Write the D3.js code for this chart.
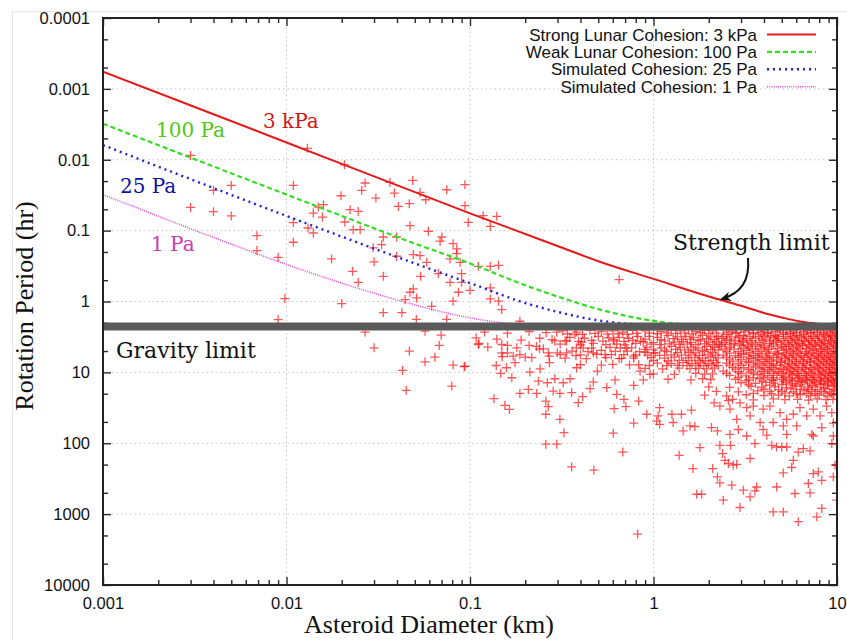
<!DOCTYPE html>
<html><head><meta charset="utf-8">
<script src="https://cdn.jsdelivr.net/npm/d3@7"></script>
<style>body{margin:0;background:#fff}svg{display:block}</style>
</head><body>
<svg id="chart" width="847" height="640"></svg>
<script>
// Axis ticks
const xTickValues = [0.001, 0.01, 0.1, 1, 10];
const xTickLabels = ["0.001", "0.01", "0.1", "1", "10"];
const yTickValues = [1e-4, 1e-3, 1e-2, 1e-1, 1, 10, 100, 1000, 10000];
const yTickLabels = ["0.0001", "0.001", "0.01", "0.1", "1", "10", "100", "1000", "10000"];

// Spin barrier for cohesionless rubble piles (hr)
const gravityLimitHr = 2.25;

// Cohesion-limited spin curves: diameter (km) and period (hr)
const strong3kPaD = [0.001, 0.01, 0.1, 0.3, 0.5, 1, 2, 3, 4, 5, 6.3, 8, 10];
const strong3kPaP = [0.00057, 0.0057, 0.057, 0.165, 0.27, 0.48, 0.85, 1.15, 1.45, 1.68, 1.92, 2.08, 2.18];
const weak100PaD = [0.001, 0.01, 0.05, 0.1, 0.2, 0.3, 0.5, 0.8, 1.2, 1.6, 2.5];
const weak100PaP = [0.0031, 0.031, 0.152, 0.29, 0.59, 0.85, 1.28, 1.7, 2.0, 2.12, 2.2];
const sim25PaD = [0.001, 0.01, 0.05, 0.1, 0.2, 0.3, 0.5, 0.8, 1.2];
const sim25PaP = [0.0062, 0.062, 0.29, 0.55, 1.05, 1.4, 1.85, 2.1, 2.2];
const sim1PaD = [0.001, 0.005, 0.01, 0.02, 0.04, 0.07, 0.1, 0.15, 0.25];
const sim1PaP = [0.031, 0.155, 0.3, 0.55, 0.95, 1.4, 1.7, 2.0, 2.2];

const seriesNames = ["Strong Lunar Cohesion: 3 kPa", "Weak Lunar Cohesion: 100 Pa",
  "Simulated Cohesion: 25 Pa", "Simulated Cohesion: 1 Pa"];

// Asteroid light-curve sample: [diameter km, period hr]
const asteroidsFast = [
  [0.0030,0.0087],[0.0040,0.027],[0.0050,0.023],[0.0109,0.023],[0.0030,0.047],[0.0040,0.054],[0.0050,0.062],
  [0.0109,0.077],[0.0069,0.118],[0.0109,0.146],[0.0069,0.191],[0.0090,0.238],[0.0098,0.91],[0.0090,1.8],
  [0.013,0.0069],[0.0207,0.0118],[0.0268,0.0213],[0.0257,0.0271],[0.0198,0.0322],[0.0307,0.0347],[0.0366,0.0209],
  [0.0387,0.0295],[0.0487,0.0196],[0.0534,0.0289],[0.0574,0.0367],[0.0747,0.0265],[0.0939,0.0225],[0.0939,0.0445],
  [0.0407,0.0455],[0.0467,0.0417],[0.0159,0.0431],[0.0149,0.0465],[0.0140,0.0565],[0.0157,0.0643],[0.0222,0.0507],
  [0.0246,0.0536],[0.0208,0.0756],[0.0231,0.0969],[0.0252,0.0969],[0.0131,0.0918],[0.0140,0.108],[0.0337,0.123],
  [0.0330,0.158],[0.0398,0.123],[0.0471,0.0851],[0.0593,0.102],[0.0702,0.123],[0.0687,0.141],[0.0809,0.153],
  [0.0847,0.181],[0.0847,0.211],[0.0978,0.0765],[0.118,0.0616],[0.140,0.0629],[0.129,0.0873],[0.0297,0.175],
  [0.030,0.276],[0.0398,0.230],[0.0491,0.218],[0.0534,0.225],[0.0581,0.280],[0.0778,0.251],[0.0883,0.280],
  [0.111,0.319],[0.129,0.319],[0.143,0.309],[0.0176,0.251],[0.0229,0.375],[0.0246,0.536],[0.0337,0.441],
  [0.0538,0.441],[0.0672,0.404],[0.0778,0.536],[0.090,0.404],[0.0471,0.741],[0.0491,0.664],[0.0512,0.89],
  [0.0443,0.94],[0.0865,0.741],[0.090,0.536],[0.100,0.695],[0.129,0.643],[0.0809,0.99],[0.129,0.92],[0.143,0.99],
  [0.149,1.30],[0.020,1.07],[0.0337,1.44],[0.0425,1.44],[0.051,1.79],[0.0618,1.17],[0.0747,1.79],[0.187,1.9],
  [0.65,0.49]
];

const asteroidsSlow = [
  [0.0268,2.7],[0.030,4.5],[0.0467,5.0],[0.0569,2.62],[0.0696,2.99],[0.068,4.17],[0.0644,6.1],[0.0569,7.1],
  [0.0429,9.4],[0.0809,7.9],[0.093,8.3],[0.0449,17.9],[0.0795,15.6],[0.108,3.25],[0.111,4.04],[0.0939,8.2],
  [0.112,3.9],[0.139,8.0],[0.135,23.5],[0.147,10.3],[0.158,8.6],[0.169,11.9],[0.149,4.04],[0.149,5.3],[0.160,4.17],
  [0.160,5.3],[0.172,5.9],[0.187,5.6],[0.176,7.3],[0.21,4.17],[0.217,6.2],[0.212,9.9],[0.239,4.65],[0.251,4.65],
  [0.241,8.9],[0.236,13.3],[0.267,5.3],[0.271,7.3],[0.297,2.7],[0.29,3.6],[0.299,5.3],[0.336,3.6],[0.336,5.3],
  [0.373,2.92],[0.378,5.8],[0.381,8.6],[0.406,3.75],[0.414,4.5],[0.47,5.3],[0.494,9.6],[0.544,5.6],[0.604,3.43],
  [0.65,6.4],[0.71,4.5],[0.78,5.9],[0.845,9.6],[0.90,4.75],[1.0,5.3],
  [0.187,19.8],[0.208,17.4],[0.231,19.8],[0.264,14.0],[0.284,18.4],[0.29,12.3],[0.309,19.8],[0.322,14.0],
  [0.351,12.3],[0.259,25.4],[0.267,30.5],[0.259,39],[0.155,29.2],[0.164,33.3],[0.309,46],[0.325,71],[0.259,103],
  [0.297,103],[0.358,19.3],[0.389,26.8],[0.411,22.0],[0.451,17.0],[0.47,13.7],[0.556,16.4],[0.617,12.8],[0.61,32.5],
  [0.69,24.0],[0.707,30.5],[0.63,20.4],[0.83,25.4],[0.78,52],[0.604,72],[0.68,133],[0.358,216],[0.473,240],
  [0.82,1910],[0.92,39],[1.04,48.6],[0.78,15.3],[0.88,12.8],[0.958,10.7],
  [1.08,31.5],[1.06,41],[1.08,54],[1.26,39],[1.28,51],[1.42,39],[1.61,34],[1.45,67],[1.58,57],[1.68,58],
  [1.38,148],[1.79,115],[1.64,228],[1.72,524],[1.83,524],[2.07,60],[2.10,228],[2.23,299],[2.30,363],[2.23,67],
  [2.30,107],[2.38,140],[2.45,174],[2.56,193],[2.72,204],[2.84,198],[2.67,391],[2.40,636],[2.96,807],[3.09,460],
  [3.36,164],[3.36,571],[3.57,470],[3.65,414],[2.63,107],[2.61,75],[2.90,64],[3.22,79],[3.57,101],[4.14,77],
  [4.41,107],[4.69,414],[4.49,930],[5.10,930],[5.10,262],[5.90,512],[6.15,1280],[5.66,220],[5.78,174],[6.15,133],
  [6.55,119],[7.13,128],[7.43,268],[6.98,370],[7.13,502],[8.26,333],[7.91,254],[8.26,832],[7.76,1090],[9.75,204],
  [9.55,299],[9.96,636],[7.43,79],[7.29,75],[8.26,60],[9.55,79],[9.55,52],[9.37,101],[5.32,113],[5.0,113],
  [4.69,113],[5.32,75],[6.03,57],[5.10,57],[4.49,51],[3.96,64],[3.81,51],[3.36,41],[2.84,46],[2.61,33],
  [2.30,30],[2.14,27],[2.56,25],[2.96,27],[3.22,31.5],[3.5,30],[3.96,33],[4.31,30],[4.89,37],[5.32,46],
  [5.78,39],[6.28,31.5],[6.84,41],[7.43,33],[8.09,41],[8.78,30],[9.37,37]
];

const asteroidsDense = [
  [2.4,2.5],[2.7,2.6],[3.0,2.45],[3.3,2.55],[3.7,2.5],[4.0,2.6],[4.4,2.45],[4.9,2.55],[5.3,2.5],[5.8,2.6],[6.3,2.45],[6.9,2.55],[7.5,2.5],[8.1,2.6],[8.8,2.45],[9.5,2.55],
  [2.55,2.7],[2.85,2.75],[3.15,2.68],[3.5,2.72],[3.85,2.7],[4.2,2.76],[4.65,2.66],[5.1,2.72],[5.55,2.7],[6.05,2.75],[6.6,2.67],[7.2,2.72],[7.8,2.7],[8.45,2.76],[9.15,2.66],[9.8,2.72],
  [2.5,2.9],[2.8,2.8],[3.1,3.0],[3.5,2.85],[3.9,2.95],[4.2,2.8],[4.6,3.0],[5.1,2.9],[5.6,2.85],[6.0,3.0],[6.6,2.9],[7.2,2.8],[7.8,2.95],[8.5,2.9],[9.2,3.0],[9.9,2.85],
  [2.4,3.1],[2.65,3.15],[2.95,3.08],[3.35,3.12],[3.75,3.1],[4.0,3.16],[4.35,3.06],[4.75,3.12],[5.25,3.1],[5.75,3.15],[6.25,3.07],[6.8,3.12],[7.4,3.1],[8.0,3.16],[8.7,3.06],[9.4,3.12],
  [2.35,3.3],[2.6,3.4],[2.9,3.25],[3.2,3.35],[3.6,3.3],[4.1,3.4],[4.5,3.2],[4.8,3.35],[5.4,3.3],[5.9,3.4],[6.4,3.25],[7.0,3.35],[7.6,3.3],[8.3,3.4],[9.0,3.2],[9.7,3.35],
  [2.5,3.55],[2.8,3.6],[3.1,3.5],[3.45,3.58],[3.9,3.55],[4.3,3.62],[4.65,3.5],[5.1,3.58],[5.6,3.55],[6.1,3.6],[6.6,3.5],[7.2,3.58],[7.85,3.55],[8.5,3.62],[9.2,3.5],[9.9,3.58],
  [2.45,3.8],[2.75,3.9],[3.05,3.7],[3.4,3.85],[3.8,3.8],[4.3,3.9],[4.7,3.75],[5.2,3.85],[5.7,3.8],[6.2,3.9],[6.7,3.7],[7.3,3.85],[8.0,3.8],[8.6,3.9],[9.3,3.75],[9.9,3.85],
  [2.35,4.05],[2.65,4.1],[2.95,4.0],[3.25,4.08],[3.6,4.05],[4.0,4.12],[4.5,4.0],[4.95,4.08],[5.45,4.05],[5.95,4.1],[6.45,4.0],[7.0,4.08],[7.6,4.05],[8.2,4.12],[8.9,4.0],[9.6,4.08],
  [2.3,4.3],[2.6,4.4],[3.0,4.2],[3.3,4.35],[3.7,4.3],[4.0,4.45],[4.4,4.25],[5.0,4.35],[5.5,4.3],[6.0,4.4],[6.5,4.2],[7.1,4.35],[7.7,4.3],[8.4,4.45],[9.1,4.25],[9.8,4.35],
  [2.45,4.65],[2.75,4.7],[3.1,4.6],[3.45,4.68],[3.85,4.65],[4.25,4.72],[4.75,4.6],[5.3,4.68],[5.8,4.65],[6.3,4.7],[6.85,4.6],[7.5,4.68],[8.2,4.65],[8.8,4.72],[9.5,4.6],
  [2.5,5.0],[2.9,5.1],[3.2,4.9],[3.6,5.05],[4.1,5.0],[4.6,5.15],[5.1,4.9],[5.6,5.05],[6.1,5.0],[6.8,5.1],[7.4,4.9],[8.1,5.05],[8.9,5.0],[9.6,5.1],
  [2.6,5.35],[3.0,5.4],[3.35,5.3],[3.75,5.38],[4.2,5.35],[4.7,5.42],[5.2,5.3],[5.7,5.38],[6.2,5.35],[6.7,5.4],[7.3,5.3],[7.9,5.38],[8.6,5.35],[9.3,5.42],[9.95,5.3],
  [2.4,5.7],[2.8,5.8],[3.1,5.6],[3.5,5.75],[3.9,5.7],[4.3,5.85],[4.8,5.6],[5.3,5.75],[5.8,5.7],[6.4,5.8],[7.0,5.6],[7.7,5.75],[8.3,5.7],[9.0,5.85],[9.8,5.6],
  [2.5,6.1],[2.9,6.15],[3.3,6.05],[3.7,6.12],[4.1,6.1],[4.5,6.18],[5.0,6.05],[5.5,6.12],[6.0,6.1],[6.6,6.15],[7.2,6.05],[7.9,6.12],[8.5,6.1],[9.2,6.18],[9.9,6.05],
  [2.6,6.5],[3.0,6.6],[3.4,6.4],[3.8,6.55],[4.2,6.5],[4.7,6.65],[5.2,6.4],[5.7,6.55],[6.3,6.5],[6.9,6.6],[7.5,6.4],[8.2,6.55],[8.8,6.5],[9.5,6.6],
  [2.7,6.95],[3.2,7.0],[3.6,6.9],[4.0,6.98],[4.4,6.95],[4.9,7.02],[5.4,6.9],[5.9,6.98],[6.5,6.95],[7.1,7.0],[7.7,6.9],[8.4,6.98],[9.1,6.95],[9.7,7.02],
  [2.5,7.4],[2.9,7.5],[3.3,7.3],[3.7,7.45],[4.1,7.4],[4.5,7.55],[5.0,7.3],[5.5,7.45],[6.0,7.4],[6.6,7.5],[7.2,7.3],[7.9,7.45],[8.6,7.4],[9.3,7.5],[9.9,7.3],
  [2.6,7.9],[3.0,7.95],[3.5,7.85],[3.9,7.92],[4.3,7.9],[4.7,7.98],[5.2,7.85],[5.7,7.92],[6.2,7.9],[6.8,7.95],[7.5,7.85],[8.1,7.92],[8.8,7.9],[9.5,7.98],
  [2.7,8.5],[3.1,8.6],[3.6,8.4],[4.0,8.55],[4.4,8.5],[4.9,8.7],[5.4,8.4],[5.9,8.55],[6.5,8.5],[7.1,8.6],[7.8,8.4],[8.4,8.55],[9.1,8.5],[9.7,8.6],
  [2.8,9.0],[3.3,9.1],[3.8,8.95],[4.2,9.05],[4.6,9.0],[5.1,9.1],[5.6,8.95],[6.1,9.05],[6.7,9.0],[7.3,9.1],[8.0,8.95],[8.7,9.05],[9.4,9.0],
  [2.4,9.6],[2.9,9.8],[3.4,9.5],[3.9,9.7],[4.3,9.6],[4.8,9.8],[5.3,9.5],[5.8,9.7],[6.4,9.6],[7.0,9.8],[7.6,9.5],[8.3,9.7],[9.0,9.6],[9.8,9.8],
  [2.5,10.3],[3.0,10.4],[3.5,10.2],[4.0,10.35],[4.5,10.3],[5.0,10.4],[5.5,10.2],[6.0,10.35],[6.6,10.3],[7.2,10.4],[7.9,10.2],[8.5,10.35],[9.2,10.3],[9.9,10.4],
  [2.6,11],[3.2,11.2],[3.7,10.8],[4.2,11.1],[4.7,11],[5.2,11.3],[5.7,10.8],[6.2,11.1],[6.8,11],[7.4,11.2],[8.1,10.8],[8.7,11.1],[9.4,11],
  [2.9,11.8],[3.5,11.9],[4.0,11.7],[4.5,11.85],[5.1,11.8],[5.6,11.95],[6.2,11.7],[6.8,11.85],[7.5,11.8],[8.2,11.95],[8.9,11.7],[9.6,11.85],
  [2.8,12.5],[3.3,12.8],[3.8,12.3],[4.4,12.6],[5.0,12.5],[5.5,12.8],[6.1,12.3],[6.7,12.6],[7.3,12.5],[8.0,12.8],[8.6,12.3],[9.3,12.6],[9.9,12.5],
  [3.2,13.2],[3.9,13.3],[4.5,13.1],[5.1,13.25],[5.7,13.2],[6.3,13.35],[6.9,13.1],[7.5,13.25],[8.2,13.2],[8.9,13.35],[9.5,13.1],
  [3.0,14],[3.6,14.3],[4.1,13.8],[4.6,14.2],[5.3,14],[5.9,14.4],[6.5,13.8],[7.1,14.2],[7.7,14],[8.4,14.4],[9.0,13.8],[9.7,14.2],
  [3.3,15],[4.3,15.2],[5.0,14.9],[5.7,15.1],[6.4,15],[7.3,15.2],[8.1,14.9],[8.9,15.1],[9.7,15],
  [2.0,16],[2.6,16.3],[3.4,15.8],[3.9,16.2],[4.6,16],[5.3,16.4],[6.0,15.8],[6.9,16.2],[7.6,16],[8.5,16.4],[9.4,15.8],
  [4.0,17.3],[4.8,17.5],[5.6,17.1],[6.3,17.4],[7.0,17.3],[7.8,17.5],[8.7,17.1],[9.6,17.4],
  [2.2,18.5],[2.9,18.8],[3.7,18.2],[4.3,18.6],[5.0,18.5],[5.8,18.9],[6.6,18.2],[7.3,18.6],[8.2,18.5],[9.1,18.9],[9.9,18.2],
  [3.5,19.8],[4.4,20],[5.2,19.6],[6.0,19.9],[6.8,19.8],[7.6,20],[8.5,19.6],[9.3,19.9],
  [1.9,21],[2.5,21.4],[3.2,20.7],[4.0,21.2],[4.8,21],[5.5,21.5],[6.3,20.7],[7.2,21.2],[8.0,21],[8.9,21.5],[9.6,20.7],
  [2.7,24],[3.5,24.5],[4.5,23.6],[5.2,24.2],[6.1,24],[7.0,24.6],[7.8,23.6],[8.7,24.2],[9.5,24],
  [0.9,2.6],[1.0,2.5],[1.1,2.65],[1.25,2.55],[1.4,2.6],[1.55,2.5],[1.7,2.65],[1.9,2.55],[2.1,2.6],
  [0.95,2.8],[1.05,2.85],[1.18,2.78],[1.32,2.82],[1.48,2.8],[1.62,2.86],[1.8,2.76],[2.0,2.82],[2.2,2.8],
  [0.95,3.1],[1.05,3.2],[1.2,3.0],[1.35,3.15],[1.5,3.1],[1.65,3.2],[1.85,3.0],[2.05,3.15],[2.25,3.1],
  [0.9,3.4],[1.1,3.45],[1.28,3.35],[1.42,3.42],[1.58,3.4],[1.75,3.46],[1.95,3.35],[2.15,3.42],
  [0.88,3.7],[1.0,3.8],[1.15,3.6],[1.3,3.75],[1.45,3.7],[1.6,3.8],[1.8,3.6],[2.0,3.75],[2.2,3.7],
  [0.97,4.0],[1.08,4.05],[1.22,3.95],[1.38,4.02],[1.53,4.0],[1.7,4.06],[1.9,3.95],[2.1,4.02],[2.28,4.0],
  [0.92,4.4],[1.1,4.5],[1.25,4.3],[1.4,4.45],[1.6,4.4],[1.75,4.5],[1.95,4.3],[2.15,4.45],
  [1.0,4.8],[1.15,4.85],[1.32,4.75],[1.48,4.82],[1.65,4.8],[1.85,4.86],[2.05,4.75],[2.25,4.82],
  [0.9,5.2],[1.02,5.3],[1.18,5.1],[1.35,5.25],[1.55,5.2],[1.7,5.3],[1.9,5.1],[2.1,5.25],
  [0.93,5.7],[1.08,5.75],[1.25,5.65],[1.42,5.72],[1.6,5.7],[1.78,5.76],[1.98,5.65],[2.18,5.72],
  [0.97,6.2],[1.15,6.3],[1.3,6.1],[1.5,6.25],[1.68,6.2],[1.85,6.3],[2.05,6.1],[2.25,6.25],
  [1.0,6.8],[1.2,6.85],[1.38,6.75],[1.55,6.82],[1.75,6.8],[1.92,6.86],[2.12,6.75],
  [1.05,7.4],[1.25,7.5],[1.45,7.3],[1.62,7.45],[1.8,7.4],[2.0,7.5],[2.2,7.3],
  [0.95,8.0],[1.18,8.05],[1.35,7.95],[1.52,8.02],[1.7,8.0],[1.88,8.06],[2.08,7.95],[2.25,8.02],
  [0.9,8.8],[1.12,8.9],[1.38,8.7],[1.58,8.85],[1.76,8.8],[1.95,8.9],[2.15,8.7],
  [1.0,10.5],[1.3,10.7],[1.7,10.3],[1.9,10.6],[2.1,10.5],
  [1.2,12.5],[1.6,12.8],[1.85,12.3],[2.05,12.6],
  [0.32,2.6],[0.38,2.7],[0.45,2.55],[0.52,2.65],[0.6,2.6],[0.68,2.7],[0.77,2.55],
  [0.34,2.85],[0.41,2.9],[0.48,2.82],[0.56,2.88],[0.64,2.85],[0.72,2.9],[0.81,2.82],
  [0.35,3.2],[0.42,3.3],[0.5,3.1],[0.57,3.25],[0.65,3.2],[0.73,3.3],[0.82,3.1],
  [0.33,3.6],[0.39,3.65],[0.46,3.55],[0.53,3.62],[0.61,3.6],[0.69,3.66],[0.77,3.55],[0.85,3.62],
  [0.31,4.0],[0.4,4.1],[0.47,3.9],[0.55,4.05],[0.63,4.0],[0.7,4.1],[0.8,3.9],
  [0.38,4.5],[0.46,4.55],[0.58,4.45],[0.66,4.52],[0.76,4.5],
  [0.36,5.0],[0.44,5.1],[0.52,4.9],[0.62,5.05],[0.72,5.0],[0.84,5.1],
  [0.31,5.6],[0.4,5.65],[0.49,5.55],[0.59,5.62],[0.69,5.6],[0.8,5.66],
  [0.33,6.3],[0.43,6.4],[0.55,6.2],[0.67,6.35],[0.78,6.3],
  [0.4,7.8],[0.52,7.9],[0.6,7.7],[0.74,7.85],[0.83,7.8],
  [0.12,2.7],[0.16,2.8],[0.21,2.65],[0.26,2.75],
  [0.14,3.4],[0.19,3.5],[0.24,3.3],[0.28,3.45],
  [0.125,4.4],[0.18,4.5],[0.23,4.3],
  [0.15,6.0],[0.2,6.1],[0.27,5.9]
];

(function draw() {
  const svg = d3.select("#chart");
  const pL = 103, pR = 837, pT = 18, pB = 585;
  const x = d3.scaleLog().domain([0.001, 10]).range([pL, pR]);
  const y = d3.scaleLog().domain([1e-4, 1e4]).range([pT, pB]);

  const sansFont = "'Liberation Sans', Arial, Helvetica, sans-serif";
  const serifFont = "'Liberation Serif', 'Times New Roman', serif";
  const labelFont = "'DejaVu Serif', serif";

  // faint figure border
  svg.append("path").attr("d", "M12.5,640V11.5H847").attr("fill", "none")
    .attr("stroke", "#e6e6e6").attr("stroke-width", 1);

  const defs = svg.append("defs");
  defs.append("clipPath").attr("id", "plotClip")
    .append("rect").attr("x", pL).attr("y", pT).attr("width", pR - pL).attr("height", pB - pT);

  // dotted grid at major ticks
  const grid = svg.append("g").attr("stroke", "#c4c4c4").attr("stroke-width", 1).attr("stroke-dasharray", "1.5,3");
  grid.selectAll("line.gx").data(xTickValues.slice(1, -1)).join("line").attr("class", "gx")
    .attr("x1", d => x(d)).attr("x2", d => x(d)).attr("y1", pT).attr("y2", pB);
  grid.selectAll("line.gy").data(yTickValues.slice(1, -1)).join("line").attr("class", "gy")
    .attr("x1", pL).attr("x2", pR).attr("y1", d => y(d)).attr("y2", d => y(d));

  // minor tick values
  const xMinor = [];
  xTickValues.slice(0, -1).forEach(d => { for (let k = 2; k <= 9; k++) xMinor.push(d * k); });
  const yMinor = [];
  yTickValues.slice(0, -1).forEach(d => { yMinor.push(d * 2, d * 5); });

  function styleAxis(g) {
    g.select(".domain").remove();
    g.selectAll(".tick line").attr("stroke", "#2a2a2a").attr("stroke-width", 1.4);
    g.selectAll("text").attr("fill", "#111");
    g.attr("font-family", sansFont).attr("font-size", 16.5);
  }

  // bottom / top
  svg.append("g").attr("transform", `translate(0,${pB})`)
    .call(d3.axisBottom(x).tickValues(xTickValues).tickFormat((d, i) => xTickLabels[i]).tickSize(-8).tickPadding(12)).call(styleAxis);
  svg.append("g").attr("transform", `translate(0,${pB})`)
    .call(d3.axisBottom(x).tickValues(xMinor).tickFormat("").tickSize(-5)).call(styleAxis);
  svg.append("g").attr("transform", `translate(0,${pT})`)
    .call(d3.axisTop(x).tickValues(xTickValues).tickFormat("").tickSize(-8)).call(styleAxis);
  svg.append("g").attr("transform", `translate(0,${pT})`)
    .call(d3.axisTop(x).tickValues(xMinor).tickFormat("").tickSize(-5)).call(styleAxis);
  // left / right
  svg.append("g").attr("transform", `translate(${pL},0)`)
    .call(d3.axisLeft(y).tickValues(yTickValues).tickFormat((d, i) => yTickLabels[i]).tickSize(-8).tickPadding(13)).call(styleAxis);
  svg.append("g").attr("transform", `translate(${pL},0)`)
    .call(d3.axisLeft(y).tickValues(yMinor).tickFormat("").tickSize(-5)).call(styleAxis);
  svg.append("g").attr("transform", `translate(${pR},0)`)
    .call(d3.axisRight(y).tickValues(yTickValues).tickFormat("").tickSize(-8)).call(styleAxis);
  svg.append("g").attr("transform", `translate(${pR},0)`)
    .call(d3.axisRight(y).tickValues(yMinor).tickFormat("").tickSize(-5)).call(styleAxis);

  // asteroid crosses
  const plot = svg.append("g").attr("clip-path", "url(#plotClip)");
  const allAsteroids = asteroidsFast.concat(asteroidsSlow, asteroidsDense);
  plot.append("g").selectAll("path").data(allAsteroids).join("path")
    .attr("d", "M-4.5,0H4.5M0,-4.5V4.5")
    .attr("transform", d => `translate(${x(d[0])},${y(d[1])})`)
    .attr("fill", "none").attr("stroke", "#ff1010").attr("stroke-opacity", 0.7).attr("stroke-width", 1.3);

  // cohesion curves
  const curveSpecs = [
    { D: strong3kPaD, P: strong3kPaP, color: "#e31a1a", width: 2, dash: null },
    { D: weak100PaD, P: weak100PaP, color: "#33dd22", width: 2.2, dash: "5,3" },
    { D: sim25PaD, P: sim25PaP, color: "#2222dd", width: 2.4, dash: "2,4" },
    { D: sim1PaD, P: sim1PaP, color: "#e848e0", width: 1.6, dash: "1,1.2" }
  ];
  const lineGen = d3.line().x(d => x(d[0])).y(d => y(d[1])).curve(d3.curveMonotoneX);
  curveSpecs.forEach(s => {
    plot.append("path").datum(s.D.map((d, i) => [d, s.P[i]]))
      .attr("d", lineGen).attr("fill", "none").attr("stroke", s.color)
      .attr("stroke-width", s.width).attr("stroke-dasharray", s.dash);
  });

  // gravity spin barrier
  plot.append("line").attr("x1", x(0.001)).attr("x2", x(10))
    .attr("y1", y(gravityLimitHr)).attr("y2", y(gravityLimitHr))
    .attr("stroke", "#5a5a5a").attr("stroke-width", 8);

  // plot frame
  svg.append("rect").attr("x", pL).attr("y", pT).attr("width", pR - pL).attr("height", pB - pT)
    .attr("fill", "none").attr("stroke", "#222").attr("stroke-width", 2);

  // legend
  const legend = svg.append("g").attr("font-family", sansFont).attr("font-size", 17).attr("fill", "#111");
  const legendBase = [40.5, 57.8, 75.2, 92.7];
  seriesNames.forEach((name, i) => {
    legend.append("text").attr("x", 757).attr("y", legendBase[i]).attr("text-anchor", "end").text(name);
    legend.append("line").attr("x1", 767).attr("x2", 816)
      .attr("y1", legendBase[i] - 6).attr("y2", legendBase[i] - 6)
      .attr("stroke", curveSpecs[i].color).attr("stroke-width", curveSpecs[i].width)
      .attr("stroke-dasharray", curveSpecs[i].dash);
  });

  // curve labels
  const labels = [
    { t: "3 kPa", x: 263, y: 128, c: "#d41414" },
    { t: "100 Pa", x: 156, y: 137, c: "#4fc814" },
    { t: "25 Pa", x: 120, y: 193, c: "#1010a0" },
    { t: "1 Pa", x: 151, y: 251, c: "#c83cb4" }
  ];
  labels.forEach(l => {
    svg.append("text").attr("x", l.x).attr("y", l.y).attr("fill", l.c)
      .attr("font-family", labelFont).attr("font-size", 20).text(l.t);
  });

  svg.append("text").attr("x", 116).attr("y", 358).attr("fill", "#111")
    .attr("font-family", labelFont).attr("font-size", 22).text("Gravity limit");
  svg.append("text").attr("x", 673).attr("y", 250).attr("fill", "#111")
    .attr("font-family", labelFont).attr("font-size", 22).text("Strength limit");

  // arrow to the strength curve
  defs.append("marker").attr("id", "arrowHead").attr("viewBox", "0 0 10 10")
    .attr("refX", 8).attr("refY", 5).attr("markerWidth", 11).attr("markerHeight", 11)
    .attr("markerUnits", "userSpaceOnUse").attr("orient", "auto")
    .append("path").attr("d", "M0,0.5L10,5L0,9.5L3,5Z").attr("fill", "#111");
  svg.append("path").attr("d", "M748,258C750,281 741,293 722,299")
    .attr("fill", "none").attr("stroke", "#111").attr("stroke-width", 2)
    .attr("marker-end", "url(#arrowHead)");

  // axis titles
  svg.append("text").attr("x", 429).attr("y", 633).attr("text-anchor", "middle")
    .attr("font-family", serifFont).attr("font-size", 26).attr("fill", "#111")
    .text("Asteroid Diameter (km)");
  svg.append("text").attr("transform", "translate(33,306) rotate(-90)").attr("text-anchor", "middle")
    .attr("font-family", serifFont).attr("font-size", 26).attr("fill", "#111")
    .text("Rotation Period (hr)");
})();
</script>
</body></html>
